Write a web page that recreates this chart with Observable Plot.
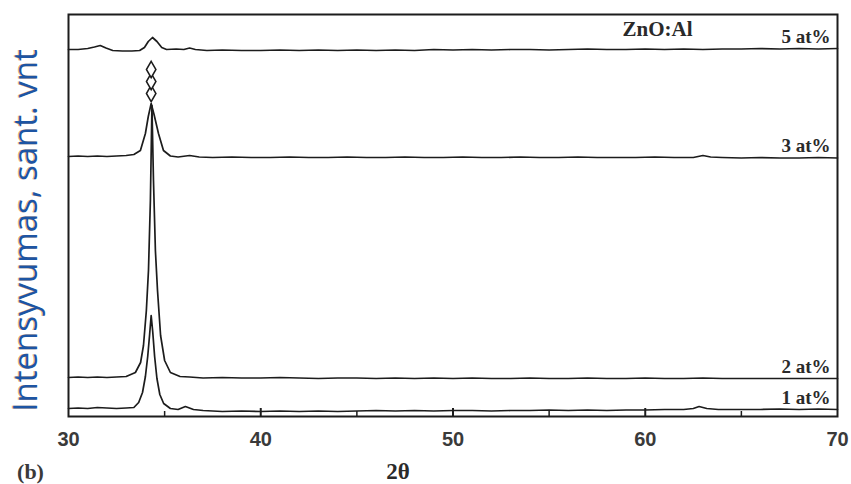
<!DOCTYPE html>
<html>
<head>
<meta charset="utf-8">
<script src="https://cdn.jsdelivr.net/npm/d3@7"></script>
<script src="https://cdn.jsdelivr.net/npm/@observablehq/plot@0.6"></script>
<style>
  body { margin: 0; background: #fff; }
  #chart svg { display: block; }
</style>
</head>
<body>
<div id="chart"></div>
<script>
// XRD patterns of Al-doped ZnO films, stacked by Al content (intensity in arbitrary, offset units)
const xTicks = [30, 40, 50, 60, 70];
const majorTicks = [40, 50, 60];
const minorTicks = [35, 45, 55, 65];

const material = "ZnO:Al";
const yLabel = "Intensyvumas, sant. vnt";
const xLabel = "2θ";
const panel = "(b)";

// [2θ, intensity]
const at5 = [[30,367],[30.5,367],[31,368],[31.35,369.5],[31.65,371],[31.95,368.5],[32.3,366],[32.8,365.5],[33.3,365.5],[33.7,366],[33.95,369],[34.15,375],[34.37,379],[34.6,375],[34.85,369],[35.1,367],[35.6,367.5],[36.0,367],[36.3,368.5],[36.6,367],[37.2,366],[38,366.5],[39,366],[40,366],[41,366.5],[42,366],[43,366.5],[44,366],[45,366.5],[46,366],[47,366.5],[48,366],[49,367],[50,366.5],[51,367],[52,366.5],[53,367],[54,367],[55,366.5],[56,367],[57,367.5],[58,367],[59,367],[60,367.5],[61,367],[62,367.5],[63,367],[64,367.5],[65,367.5],[66,368],[67,367.5],[68,368],[69,367.5],[70,368]];

const at3 = [[30,260],[30.5,260.5],[31,260],[31.5,260.5],[32,260],[32.5,260.5],[33,261],[33.4,262],[33.74,266],[34.0,283],[34.15,300],[34.3,313],[34.45,302],[34.68,283],[34.94,266],[35.3,260.5],[35.7,259.5],[36.3,261],[36.8,259.5],[37.5,259],[38.5,259.5],[39.5,259],[40.5,259],[41.5,259.5],[42.5,259],[43.5,259],[44.5,259.5],[45.5,259],[46.5,259],[47.5,259.5],[48.5,259],[49.5,259],[50.5,259.5],[51.5,259],[52.5,259],[53.5,259.5],[54.5,259],[55.5,259],[56.5,259.5],[57.5,259],[58.5,259],[59.5,259],[60.5,259.5],[61.5,259],[62.5,259],[63,261],[63.4,259.5],[64,259],[65,258.5],[66,259],[67,258.5],[68,258.5],[69,259],[70,258.5]];

const at2 = [[30,39],[30.5,39.5],[31,39],[31.5,39.5],[32,39],[32.5,39.5],[33,40],[33.48,44],[33.75,54],[33.9,71],[34.05,106],[34.16,146],[34.26,216],[34.34,311],[34.42,236],[34.52,166],[34.63,126],[34.79,81],[35.0,56],[35.3,44],[35.8,40],[36.3,39.5],[37,38.5],[38,39],[39,38.5],[40,38.5],[41,39],[42,38.5],[43,38],[44,38.5],[45,38.5],[46,38],[47,38.5],[48,38],[49,38.5],[50,38],[51,38.5],[52,38],[53,38],[54,38.5],[55,38],[56,38],[57,38.5],[58,38],[59,38],[60,38.5],[61,38],[62,38],[63,38.5],[64,38],[65,38],[66,38],[67,38],[68,38],[69,38],[70,38]];

const at1 = [[30,8],[30.5,8.5],[31,8],[31.5,9],[32,8.5],[32.5,8],[33,8.5],[33.4,9],[33.65,14],[33.85,24],[34.0,40],[34.12,60],[34.22,82],[34.3,101],[34.38,85],[34.48,60],[34.6,38],[34.75,22],[34.95,13],[35.3,8],[35.7,7],[36.08,10],[36.5,7],[37,6],[38,5],[39,5.5],[40,5],[41,5.5],[42,5],[43,5.5],[44,5],[45,5.5],[46,6],[47,5.5],[48,6],[49,5.5],[50,6],[51,6],[52,5.5],[53,6],[54,6],[55,6.5],[56,6],[57,6.5],[58,6],[59,6.5],[60,6.5],[61,7],[62,7],[62.5,8],[62.8,10],[63.2,8],[63.8,7],[64.5,7],[65,7],[66,7],[67,7.5],[68,7],[69,7.5],[70,7]];

const samples = ["5 at%", "3 at%", "2 at%", "1 at%"];
const patterns = [at5, at3, at2, at1];

const rows = samples.flatMap((s, i) => patterns[i].map(([t, v]) => ({sample: s, t, v})));
const labelRows = samples.map((s, i) => ({sample: s, v: patterns[i][patterns[i].length - 1][1]}));

// (002) reflection of the 3 at% film, marked above its peak
const peak3 = at3.reduce((a, b) => (b[1] > a[1] ? b : a));
const peakRow = {t: peak3[0], v: peak3[1]};

const ink = "#1c1c1c";
const serif = "'Liberation Serif', 'Times New Roman', serif";

const chart = Plot.plot({
  width: 851,
  height: 484,
  marginTop: 14,
  marginBottom: 68,
  marginLeft: 68,
  marginRight: 14,
  style: {background: "#fff"},
  x: {domain: [30, 70]},
  y: {domain: [0, 402], axis: null},
  marks: [
    Plot.line(rows, {x: "t", y: "v", z: "sample", stroke: ink, strokeWidth: 1.7}),
    Plot.ruleX(majorTicks, {y1: 0, y2: 8, stroke: ink, strokeWidth: 2}),
    Plot.ruleX(minorTicks, {y1: 0, y2: 5, stroke: ink, strokeWidth: 1.5}),
    Plot.frame({stroke: ink, strokeWidth: 2}),
    Plot.axisX({
      ticks: xTicks, tickSize: 0, tickPadding: 15, label: null,
      fontSize: 20, fontWeight: "bold", fontFamily: "'Liberation Sans', Arial, sans-serif", fill: "#3a3a3a"
    }),
    ...[10, 22, 34].map(off => Plot.dot([peakRow], {
      x: "t", y: "v", dy: -off, symbol: "diamond", r: 5, stroke: ink, strokeWidth: 1.5, fill: "#fff"
    })),
    Plot.text(labelRows, {
      y: "v", text: "sample", frameAnchor: "right", textAnchor: "end", lineAnchor: "bottom",
      dx: -7, dy: -6, fontSize: 19, fontWeight: "bold", fontFamily: serif, fill: "#2a2a2a"
    }),
    Plot.text([material], {
      text: d => d, frameAnchor: "top-right", textAnchor: "middle", lineAnchor: "top",
      dx: -180, dy: 7, fontSize: 21, fontWeight: "bold", fontFamily: serif, fill: "#2a2a2a"
    }),
    Plot.text([panel], {
      text: d => d, frameAnchor: "bottom-left", textAnchor: "middle", lineAnchor: "middle",
      dx: -38, dy: 55, fontSize: 22, fontWeight: "bold", fontFamily: serif, fill: "#3a3a3a"
    }),
    Plot.text([xLabel], {
      text: d => d, frameAnchor: "bottom", textAnchor: "middle", lineAnchor: "middle",
      dx: -55, dy: 55, fontSize: 23, fontWeight: "bold", fontFamily: serif, fill: "#2a2a2a"
    }),
    // colour fringe behind the axis title
    Plot.text([yLabel], {
      text: d => d, frameAnchor: "left", rotate: -90, textAnchor: "middle", lineAnchor: "middle",
      dx: -43.3, dy: 15, fontSize: 33, fontFamily: "'Open Sans', sans-serif", fill: "#e8952e", fillOpacity: 0.7
    }),
    Plot.text([yLabel], {
      text: d => d, frameAnchor: "left", rotate: -90, textAnchor: "middle", lineAnchor: "middle",
      dx: -42, dy: 15, fontSize: 33, fontFamily: "'Open Sans', sans-serif", fill: "#1d55a3"
    })
  ]
});

document.getElementById("chart").appendChild(chart);
</script>
</body>
</html>
